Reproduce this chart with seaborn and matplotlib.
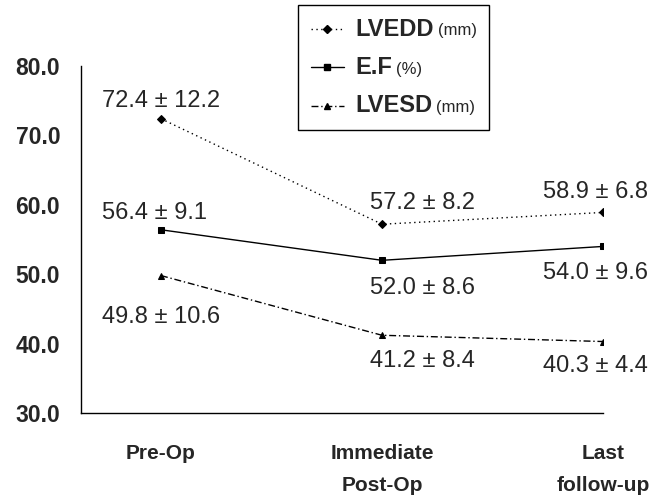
import matplotlib
matplotlib.use("Agg")
import matplotlib.pyplot as plt
import pandas as pd
import seaborn as sns
from matplotlib.lines import Line2D
from matplotlib.offsetbox import AnchoredOffsetbox, DrawingArea, HPacker, TextArea, VPacker

# data
phases = ["Pre-Op", "Immediate\nPost-Op", "Last\nfollow-up"]
series = ["LVEDD", "E.F", "LVESD"]
units = ["(mm)", "(%)", "(mm)"]
lvedd = [72.4, 57.2, 58.9]
ef = [56.4, 52.0, 54.0]
lvesd = [49.8, 41.2, 40.3]
lvedd_sd = [12.2, 8.2, 6.8]
ef_sd = [9.1, 8.6, 9.6]
lvesd_sd = [10.6, 8.4, 4.4]

means = [lvedd, ef, lvesd]
sds = [lvedd_sd, ef_sd, lvesd_sd]

rows = []
for name, m in zip(series, means):
    for i, v in enumerate(m):
        rows.append({"pos": i, "value": v, "series": name})
df = pd.DataFrame(rows)

# label offsets in pixels (dx, dy) per series, per phase
offsets = [
    [(-59, 18), (-12, 21), (-60, 20)],
    [(-59, 17), (-12, -28), (-60, -27)],
    [(-59, -41), (-12, -26), (-60, -24)],
]

sns.set_style("white")
plt.rcParams["font.family"] = ["Liberation Sans", "DejaVu Sans"]

fig = plt.figure(figsize=(6.62, 4.97), dpi=100)
ax = fig.add_axes([81 / 662, 1 - 413 / 497, (603 - 81) / 662, (413 - 66) / 497])

dashes = {"LVEDD": (1, 2.5), "E.F": "", "LVESD": (5, 2, 1, 2)}
markers = {"LVEDD": "D", "E.F": "s", "LVESD": "^"}
sns.lineplot(data=df, x="pos", y="value", style="series", style_order=series,
             dashes=dashes, markers=markers, color="black", linewidth=1,
             markersize=4.5, markeredgecolor="black", legend=False, ax=ax)

num_font = dict(fontsize=17)
for k in range(len(series)):
    for i in range(len(phases)):
        ax.annotate(f"{means[k][i]:.1f} \u00b1 {sds[k][i]:.1f}", xy=(i, means[k][i]),
                    xytext=offsets[k][i], textcoords="offset pixels",
                    ha="left", va="center", **num_font)

ax.set_xlim(-0.362, 2.0)
ax.set_ylim(30, 80)
ax.set_yticks([30, 40, 50, 60, 70, 80])
ax.set_yticklabels([f"{t:.1f}" for t in [30, 40, 50, 60, 70, 80]],
                   fontsize=16.5, fontweight="bold")
ax.set_xticks(range(len(phases)))
ax.set_xticklabels(phases, fontsize=15, fontweight="bold", linespacing=1.9)
ax.set_xlabel("")
ax.set_ylabel("")
ax.tick_params(axis="both", direction="in", length=5, width=1, color="black")
ax.tick_params(axis="x", pad=22)
ax.tick_params(axis="y", pad=15)
sns.despine(ax=ax)
for s in ["left", "bottom"]:
    ax.spines[s].set_color("black")
    ax.spines[s].set_linewidth(1)

# legend with bold names and small units
entries = []
for name, unit in zip(series, units):
    da = DrawingArea(24, 12, 0, 0)
    da.add_artist(Line2D([0, 12, 24], [6, 6, 6], color="black", linewidth=1,
                         dashes=dashes[name] if dashes[name] else (None, None),
                         linestyle="-" if name == "E.F" else "--",
                         marker=markers[name], markevery=[1], markersize=4.5))
    t1 = TextArea(name, textprops=dict(fontsize=17, fontweight="bold"))
    t2 = TextArea(unit, textprops=dict(fontsize=12))
    label = HPacker(children=[t1, t2], align="baseline", pad=0, sep=3)
    entries.append(HPacker(children=[da, label], align="center", pad=0, sep=8))
box = VPacker(children=entries, align="left", pad=0, sep=11)
anch = AnchoredOffsetbox(loc="upper left", child=box, pad=0.9, borderpad=0, frameon=True,
                         bbox_to_anchor=(298 / 662, 1 - 5 / 497), bbox_transform=fig.transFigure)
anch.patch.set_edgecolor("black")
anch.patch.set_linewidth(1)
fig.add_artist(anch)

fig.savefig("out.png", dpi=100)
